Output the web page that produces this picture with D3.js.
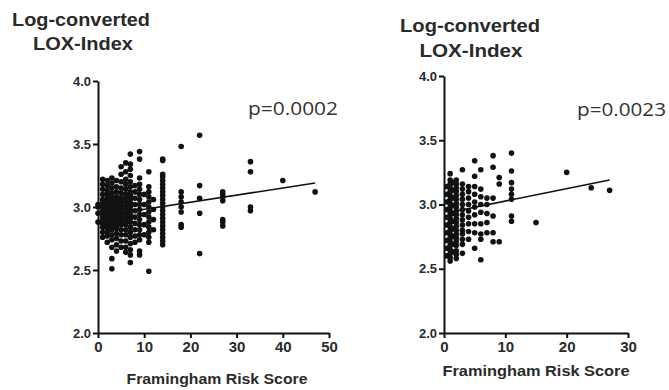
<!DOCTYPE html>
<html><head><meta charset="utf-8">
<script src="https://cdn.jsdelivr.net/npm/d3@7"></script>
<style>html,body{margin:0;padding:0;background:#fff;}svg{display:block;}</style>
</head><body>
<script>
// ---------- data ----------
const leftScores = [0,1,2,3,4,5,6,7,8,9,10,11,12,14,18,22,27,33,40,47];
const leftValues = [
  [2.88,2.95,3.00,3.02],
  [2.76,2.80,2.84,2.87,2.90,2.92,2.95,2.97,3.00,3.03,3.06,3.10,3.14,3.18,3.22],
  [2.72,2.77,2.80,2.83,2.86,2.88,2.91,2.93,2.96,2.98,3.01,3.04,3.07,3.10,3.13,3.17,3.21],
  [2.51,2.59,2.68,2.74,2.78,2.82,2.85,2.88,2.90,2.93,2.95,2.98,3.00,3.03,3.05,3.08,3.11,3.15,3.19,3.23],
  [2.65,2.70,2.75,2.79,2.83,2.86,2.89,2.92,2.94,2.97,3.00,3.02,3.05,3.08,3.12,3.16,3.21],
  [2.68,2.73,2.78,2.82,2.86,2.89,2.92,2.95,2.98,3.01,3.04,3.07,3.11,3.15,3.20,3.26,3.32],
  [2.64,2.68,2.73,2.78,2.82,2.86,2.89,2.92,2.95,2.98,3.01,3.04,3.07,3.10,3.14,3.18,3.22,3.28,3.35],
  [2.56,2.62,2.66,2.71,2.76,2.80,2.84,2.88,2.91,2.94,2.97,3.00,3.03,3.06,3.09,3.12,3.16,3.20,3.25,3.30,3.34,3.42],
  [2.72,2.77,2.82,2.87,2.92,2.97,3.02,3.07,3.12,3.17],
  [2.62,2.65,2.74,2.78,2.82,2.86,2.90,2.94,2.98,3.02,3.06,3.10,3.14,3.18,3.23,3.38,3.44],
  [2.78,2.86,2.94,3.02,3.10],
  [2.49,2.72,2.76,2.80,2.84,2.88,2.92,2.96,3.00,3.04,3.08,3.12,3.16,3.28],
  [2.82,2.90,2.98,3.06],
  [2.70,2.73,2.76,2.79,2.82,2.85,2.88,2.91,2.94,2.97,3.00,3.03,3.06,3.09,3.12,3.15,3.18,3.21,3.24,3.26,3.37,3.38],
  [2.84,2.86,2.96,3.00,3.04,3.08,3.12,3.48],
  [2.63,2.95,3.07,3.17,3.57],
  [2.85,2.88,2.90,3.05,3.08,3.10,3.12],
  [2.97,3.00,3.28,3.36],
  [3.21],
  [3.12]
];
const leftFitX = [1, 47];
const leftFitY = [2.93, 3.19];
const leftP = "p=0.0002";

const rightScores = [0.5,1,1.5,2,3,4,5,6,7,8,9,11,15,20,24,27];
const rightValues = [
  [2.60,2.66,2.72,2.78,2.84,2.90,2.96,3.02,3.08,3.14],
  [2.56,2.59,2.62,2.65,2.68,2.71,2.74,2.77,2.80,2.83,2.86,2.89,2.92,2.95,2.98,3.01,3.04,3.07,3.10,3.13,3.16,3.19,3.24],
  [2.63,2.69,2.75,2.81,2.87,2.93,2.99,3.05,3.11,3.17],
  [2.58,2.61,2.64,2.68,2.71,2.74,2.77,2.80,2.83,2.86,2.89,2.92,2.95,2.98,3.01,3.04,3.07,3.10,3.13,3.16,3.19],
  [2.62,2.69,2.73,2.77,2.80,2.84,2.88,2.92,2.96,3.00,3.04,3.08,3.12,3.16,3.27],
  [2.73,2.79,2.85,2.90,2.95,3.00,3.05,3.10,3.14],
  [2.66,2.78,2.85,2.92,2.98,3.02,3.08,3.14,3.22,3.34],
  [2.57,2.73,2.77,2.85,2.94,3.00,3.06,3.12,3.27],
  [2.78,2.86,2.93,3.00,3.05],
  [2.71,2.78,2.91,3.05,3.29,3.38],
  [2.71,3.16,3.21],
  [2.87,2.91,3.04,3.08,3.12,3.17,3.26,3.40],
  [2.86],
  [3.25],
  [3.13],
  [3.11]
];
const rightFitX = [1, 27];
const rightFitY = [2.94, 3.19];
const rightP = "p=0.0023";

const yTicks = [2.0, 2.5, 3.0, 3.5, 4.0];
const leftXTicks = [0,10,20,30,40,50];
const rightXTicks = [0,10,20,30];
const titleLine1 = "Log-converted";
const titleLine2 = "LOX-Index";
const xTitle = "Framingham Risk Score";

// ---------- drawing ----------
const W = 669, H = 390;
const svg = d3.select("body").append("svg").attr("width", W).attr("height", H);
const txtColor = "#2a2a2a";
const font = "Arial, 'Liberation Sans', sans-serif";

function panel(cfg) {
  const x = d3.scaleLinear().domain(cfg.xDomain).range(cfg.xRange);
  const y = d3.scaleLinear().domain([2, 4]).range(cfg.yRange);
  const g = svg.append("g");

  const yAxis = d3.axisLeft(y).tickValues(yTicks).tickFormat(d3.format(".1f")).tickSize(5).tickSizeOuter(0).tickPadding(2);
  const gy = g.append("g").attr("transform", `translate(${cfg.xRange[0]},0)`).call(yAxis);
  const xAxis = d3.axisBottom(x).tickValues(cfg.xTicks).tickFormat(d3.format("d")).tickSize(5).tickSizeOuter(0).tickPadding(3);
  const gx = g.append("g").attr("transform", `translate(0,${cfg.yRange[0]})`).call(xAxis);
  [gx, gy].forEach(a => {
    a.selectAll("path, line").attr("stroke", "#111").attr("stroke-width", 2);
    a.selectAll("text").attr("fill", txtColor).attr("font-family", font)
      .attr("font-weight", "bold");
  });
  gy.selectAll("text").attr("font-size", 13);
  gx.selectAll("text").attr("font-size", 15);

  // points
  const pts = [];
  cfg.scores.forEach((s, i) => cfg.values[i].forEach(v => pts.push([s, v])));
  g.append("g").selectAll("circle").data(pts).join("circle")
    .attr("cx", d => x(d[0])).attr("cy", d => y(d[1])).attr("r", 2.8).attr("fill", "#111");

  // regression line
  g.append("line")
    .attr("x1", x(cfg.fitX[0])).attr("y1", y(cfg.fitY[0]))
    .attr("x2", x(cfg.fitX[1])).attr("y2", y(cfg.fitY[1]))
    .attr("stroke", "#111").attr("stroke-width", 1.6);

  // titles
  const t = cfg.title;
  g.append("text").attr("x", t.x1).attr("y", t.y1).attr("text-anchor", "middle")
    .attr("font-family", font).attr("font-weight", "bold").attr("font-size", 18)
    .attr("fill", txtColor).attr("textLength", t.w1).attr("lengthAdjust", "spacingAndGlyphs").text(titleLine1);
  g.append("text").attr("x", t.x2).attr("y", t.y2).attr("text-anchor", "middle")
    .attr("font-family", font).attr("font-weight", "bold").attr("font-size", 18)
    .attr("fill", txtColor).attr("textLength", t.w2).attr("lengthAdjust", "spacingAndGlyphs").text(titleLine2);

  g.append("text").attr("x", cfg.xt.x).attr("y", cfg.xt.y).attr("text-anchor", "middle")
    .attr("font-family", font).attr("font-weight", "bold").attr("font-size", 14)
    .attr("fill", txtColor).attr("textLength", cfg.xt.w).attr("lengthAdjust", "spacingAndGlyphs").text(xTitle);

  g.append("text").attr("x", cfg.p.x).attr("y", cfg.p.y)
    .attr("font-family", "'Open Sans', 'Noto Sans', sans-serif").attr("font-size", 18)
    .attr("fill", "#333").attr("textLength", cfg.p.w).attr("lengthAdjust", "spacingAndGlyphs").text(cfg.p.text);
}

panel({
  xDomain: [0, 50], xRange: [98, 329], yRange: [333, 81], xTicks: leftXTicks,
  scores: leftScores, values: leftValues, fitX: leftFitX, fitY: leftFitY,
  title: {x1: 81, y1: 26, w1: 138, x2: 83, y2: 50, w2: 100},
  xt: {x: 217, y: 384, w: 181},
  p: {x: 248, y: 115, w: 90, text: leftP}
});
panel({
  xDomain: [0, 30], xRange: [444, 628], yRange: [333, 76], xTicks: rightXTicks,
  scores: rightScores, values: rightValues, fitX: rightFitX, fitY: rightFitY,
  title: {x1: 470, y1: 32, w1: 140, x2: 471, y2: 57, w2: 103},
  xt: {x: 536, y: 376, w: 187},
  p: {x: 577, y: 116, w: 89, text: rightP}
});
</script>
</body></html>
